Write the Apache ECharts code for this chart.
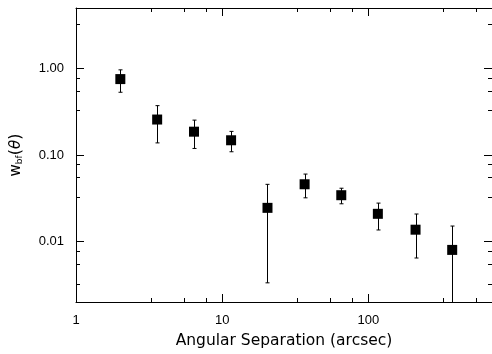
<!DOCTYPE html>
<html>
<head>
<meta charset="utf-8">
<script src="https://cdn.jsdelivr.net/npm/echarts@6/dist/echarts.min.js"></script>
<style>
  html, body { margin: 0; padding: 0; background: #fff; }
  #chart { width: 492px; height: 354px; }
</style>
</head>
<body>
<div id="chart"></div>
<script>
// Angular separation bins (arcsec) and the measured correlation w_bf(theta)
const separation = [2.01, 3.59, 6.41, 11.5, 20.4, 36.6, 65.2, 116, 210, 374];
const wbf        = [0.754, 0.257, 0.186, 0.148, 0.0245, 0.0459, 0.0343, 0.0209, 0.0137, 0.0080];
const errLow     = [0.531, 0.138, 0.119, 0.109, 0.00333, 0.0320, 0.0273, 0.0136, 0.00645, 0.0010];
const errHigh    = [0.964, 0.372, 0.253, 0.1875, 0.0458, 0.0602, 0.0413, 0.0278, 0.0208, 0.0151];

// Axis ranges and tick positions
const xRange = [1, 700];
const yRange = [0.002, 5];
const xMajorTicks = [1, 10, 100];
const xMinorTicks = [3.25, 5.5, 7.75, 32.5, 55, 77.5, 325, 550];
const yMajorTicks = [0.01, 0.1, 1];
const yMinorTicks = [0.00325, 0.0055, 0.00775, 0.0325, 0.055, 0.0775, 0.325, 0.55, 0.775, 3.25];

const labelFont = { fontFamily: 'Liberation Sans', fontSize: 13, color: '#000' };

function logAxis(range, position, ticks, tickLen, extra) {
  return Object.assign({
    type: 'log',
    logBase: 10,
    min: range[0],
    max: range[1],
    position: position,
    gridIndex: 0,
    axisLine: { show: false },
    axisTick: {
      show: true,
      inside: true,
      length: tickLen,
      customValues: ticks,
      lineStyle: { color: '#000', width: 1 }
    },
    axisLabel: { show: false },
    splitLine: { show: false },
    minorTick: { show: false },
    minorSplitLine: { show: false }
  }, extra || {});
}

const frameLine = { show: true, onZero: false, lineStyle: { color: '#000', width: 1 } };

const xAxes = [
  logAxis(xRange, 'bottom', xMajorTicks, 8, {
    axisLine: frameLine,
    axisLabel: Object.assign({
      show: true,
      margin: 12,
      customValues: xMajorTicks,
      formatter: v => String(Math.round(v))
    }, labelFont),
    name: 'Angular Separation (arcsec)',
    nameLocation: 'middle',
    nameGap: 31,
    nameTextStyle: { fontFamily: 'DejaVu Sans', fontSize: 15.5, color: '#000' }
  }),
  logAxis(xRange, 'bottom', xMinorTicks, 4),
  logAxis(xRange, 'top', xMajorTicks, 8, { axisLine: frameLine }),
  logAxis(xRange, 'top', xMinorTicks, 4)
];

const yAxes = [
  logAxis(yRange, 'left', yMajorTicks, 8, {
    axisLine: frameLine,
    axisLabel: Object.assign({
      show: true,
      margin: 12,
      customValues: yMajorTicks,
      formatter: v => Number(v).toFixed(2)
    }, labelFont),
    name: '{w|w}{sub|bf}{p|(}{t|θ}{p|)}',
    nameLocation: 'middle',
    nameRotate: 90,
    nameGap: 52,
    nameTextStyle: {
      color: '#000',
      rich: {
        w:   { fontFamily: 'DejaVu Sans', fontSize: 15, color: '#000' },
        sub: { fontFamily: 'DejaVu Sans', fontSize: 9, color: '#000', padding: [7, 0, 0, 0] },
        p:   { fontFamily: 'DejaVu Sans', fontSize: 16, color: '#000' },
        t:   { fontFamily: 'DejaVu Sans', fontSize: 15, fontStyle: 'italic', color: '#000' }
      }
    }
  }),
  logAxis(yRange, 'left', yMinorTicks, 4),
  logAxis(yRange, 'right', yMajorTicks, 8, { axisLine: frameLine }),
  logAxis(yRange, 'right', yMinorTicks, 4)
];

const points = separation.map((x, i) => [x, wbf[i]]);
const bars = separation.map((x, i) => [x, errLow[i], errHigh[i]]);

function renderErrorBar(params, api) {
  const x = api.value(0);
  const hi = api.coord([x, api.value(2)]);
  const lo = api.coord([x, api.value(1)]);
  const floorY = api.coord([x, yRange[0]])[1];
  const cx = Math.round(hi[0]) + 0.5;
  const capHalf = 2;
  const bottomY = Math.min(lo[1], floorY);
  const style = { stroke: '#000', lineWidth: 1 };
  const children = [
    { type: 'line', shape: { x1: cx, y1: hi[1], x2: cx, y2: bottomY }, style: style },
    { type: 'line', shape: { x1: cx - capHalf, y1: hi[1], x2: cx + capHalf, y2: hi[1] }, style: style }
  ];
  if (lo[1] <= floorY) {
    children.push({ type: 'line', shape: { x1: cx - capHalf, y1: lo[1], x2: cx + capHalf, y2: lo[1] }, style: style });
  }
  return { type: 'group', children: children };
}

const chart = echarts.init(document.getElementById('chart'), null, { renderer: 'canvas' });
chart.setOption({
  animation: false,
  backgroundColor: '#fff',
  grid: { left: 74, top: 8, right: -1, bottom: 51, containLabel: false },
  xAxis: xAxes,
  yAxis: yAxes,
  series: [
    {
      type: 'custom',
      xAxisIndex: 0,
      yAxisIndex: 0,
      renderItem: renderErrorBar,
      data: bars,
      z: 2,
      silent: true
    },
    {
      type: 'scatter',
      xAxisIndex: 0,
      yAxisIndex: 0,
      data: points,
      symbol: 'rect',
      symbolSize: 10,
      itemStyle: { color: '#000', opacity: 1 },
      z: 3,
      silent: true
    }
  ]
});
</script>
</body>
</html>
